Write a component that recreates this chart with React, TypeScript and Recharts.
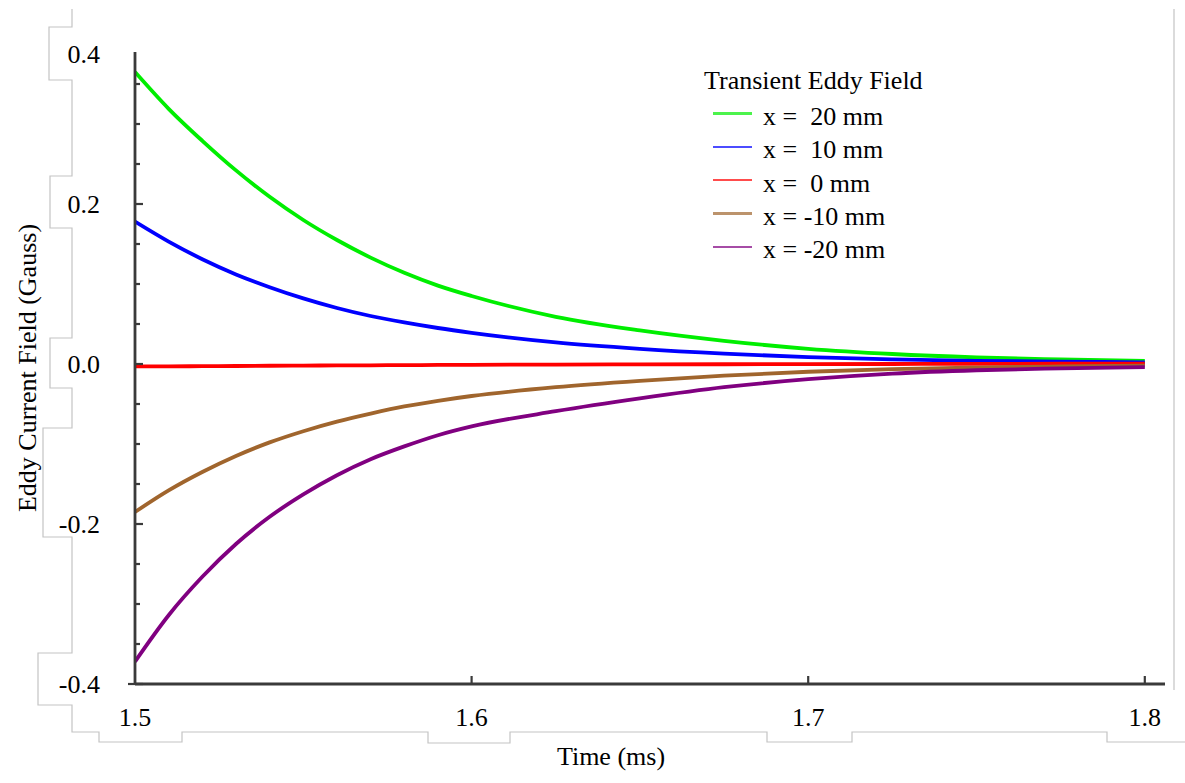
import React from 'react';
import { LineChart, Line, XAxis, YAxis, Legend } from 'recharts';

// ---- data ----
const timeMs = [1.5, 1.51, 1.52, 1.53, 1.54, 1.55, 1.56, 1.57, 1.58, 1.59, 1.6, 1.625, 1.65, 1.675, 1.7, 1.725, 1.75, 1.775, 1.8];
const fieldP20 = [0.365, 0.319, 0.279, 0.242, 0.209, 0.180, 0.155, 0.133, 0.114, 0.098, 0.085, 0.059, 0.042, 0.029, 0.019, 0.0125, 0.0083, 0.0058, 0.004];
const fieldP10 = [0.178, 0.153, 0.131, 0.112, 0.096, 0.082, 0.070, 0.060, 0.052, 0.045, 0.039, 0.027, 0.019, 0.013, 0.0085, 0.0058, 0.004, 0.003, 0.002];
const field0 = [-0.003, -0.003, -0.0027, -0.0025, -0.0022, -0.002, -0.0018, -0.0016, -0.0014, -0.0012, -0.001, -0.0007, -0.0005, -0.0003, -0.0002, 0, 0.0002, 0.0003, 0.0005];
const fieldM10 = [-0.185, -0.158, -0.135, -0.115, -0.098, -0.084, -0.072, -0.062, -0.053, -0.046, -0.040, -0.029, -0.021, -0.0145, -0.0097, -0.0065, -0.0045, -0.003, -0.002];
const fieldM20 = [-0.372, -0.314, -0.266, -0.225, -0.191, -0.163, -0.139, -0.119, -0.103, -0.089, -0.078, -0.059, -0.043, -0.029, -0.019, -0.012, -0.0078, -0.0055, -0.004];

const seriesKeys = ['p20', 'p10', 'z0', 'm10', 'm20'];
const seriesNames = ['x =  20 mm', 'x =  10 mm', 'x =  0 mm', 'x = -10 mm', 'x = -20 mm'];
const seriesColors = ['#00ee00', '#0000ff', '#ff0000', '#a0652d', '#800080'];
const seriesValues = [fieldP20, fieldP10, field0, fieldM10, fieldM20];

const legendTitle = 'Transient Eddy Field';
const xTitle = 'Time (ms)';
const yTitle = 'Eddy Current Field (Gauss)';

const xTicks = [1.5, 1.6, 1.7, 1.8];
const xTickLabels = ['1.5', '1.6', '1.7', '1.8'];
const yLabeledTicks = [-0.4, -0.2, 0, 0.2, 0.39];
const yTickLabels = ['-0.4', '-0.2', '0.0', '0.2', '0.4'];
const yMinorTicks = [-0.35, -0.3, -0.25, -0.15, -0.1, -0.05, 0.05, 0.1, 0.15, 0.25, 0.3, 0.35];
const xDomain = [1.5, 1.806];
const yDomain = [-0.4, 0.39];

const data = timeMs.map((t, i) => {
  const row: Record<string, number> = { t };
  seriesKeys.forEach((k, s) => {
    row[k] = seriesValues[s][i];
  });
  return row;
});

const FONT = '"Liberation Serif", "Times New Roman", serif';
const AXIS = '#3a3a3a';

const YTick = (props: any) => {
  const { x, y, payload } = props;
  const v = payload.value;
  const li = yLabeledTicks.findIndex((t) => Math.abs(t - v) < 1e-9);
  const isTop = Math.abs(v - yDomain[1]) < 1e-9;
  const len = li >= 0 ? 8 : 5;
  return (
    <g>
      {!isTop && (
        <line x1={v === -0.4 ? x - 7 : x} x2={x + len} y1={y} y2={y} stroke={AXIS} strokeWidth={2.2} />
      )}
      {li >= 0 && (
        <text x={x - 35} y={y + (isTop ? 2 : 0)} textAnchor="end" dominantBaseline="central" fontSize={26} fontFamily={FONT} fill="#000">
          {yTickLabels[li]}
        </text>
      )}
    </g>
  );
};

const XTick = (props: any) => {
  const { x, y, payload } = props;
  const i = xTicks.findIndex((t) => Math.abs(t - payload.value) < 1e-9);
  return (
    <g>
      {i > 0 && <line x1={x} x2={x} y1={y} y2={y - 8} stroke={AXIS} strokeWidth={2.2} />}
      <text x={x} y={y + 33} textAnchor="middle" dominantBaseline="central" fontSize={26} fontFamily={FONT} fill="#000">
        {i >= 0 ? xTickLabels[i] : ''}
      </text>
    </g>
  );
};

const renderLegend = () => (
  <div style={{ fontFamily: FONT, color: '#000', fontSize: 26 }}>
    <div style={{ height: 38, lineHeight: '38px', whiteSpace: 'pre' }}>{legendTitle}</div>
    {seriesNames.map((name, i) => (
      <div key={name} style={{ height: 33.3, lineHeight: '33.3px', display: 'flex', alignItems: 'center', whiteSpace: 'pre' }}>
        <div style={{ width: 39, height: 2.5, marginLeft: 9, marginRight: 11, background: seriesColors[i], opacity: 0.7, position: 'relative', top: -3 }} />
        <span>{name}</span>
      </div>
    ))}
  </div>
);

const framePath =
  'M72,9 V27 H49 V80 H72 V176 H50 V228 H72 V338 H50 V388 H72 V428 H43 V537 H72 V653 H38 V705 H72 V732 H99 V742 H182 V732 H428 V743 H510 V732 H767 V742 H852 V732 H1107 V742 H1185 M1174,9 V690';

export default function App() {
  return (
    <div style={{ position: 'absolute', left: 0, top: 0, width: 1185, height: 783, background: '#fff' }}>
      <LineChart width={1185} height={783} data={data} margin={{ top: 52, right: 20, bottom: 0, left: 0 }}>
        <XAxis
          dataKey="t"
          type="number"
          domain={xDomain}
          ticks={xTicks}
          interval={0}
          height={99}
          tickSize={0}
          tickMargin={0}
          tickLine={false}
          tick={<XTick />}
          axisLine={{ stroke: AXIS, strokeWidth: 2.8 }}
          allowDataOverflow
          label={{ value: xTitle, position: 'insideBottom', offset: 18, dx: -39, style: { fontSize: 26, fontFamily: FONT, fill: '#000' } }}
        />
        <YAxis
          type="number"
          domain={yDomain}
          ticks={[...yLabeledTicks, ...yMinorTicks].sort((a, b) => a - b)}
          interval={0}
          width={135}
          tickSize={0}
          tickMargin={0}
          tickLine={false}
          tick={<YTick />}
          axisLine={{ stroke: AXIS, strokeWidth: 2.8 }}
          allowDataOverflow
          label={{ value: yTitle, angle: -90, position: 'insideLeft', offset: 27, style: { fontSize: 26, fontFamily: FONT, fill: '#000', textAnchor: 'middle' } }}
        />
        {seriesKeys.map((k, i) => (
          <Line
            key={k}
            type="monotone"
            dataKey={k}
            name={seriesNames[i]}
            stroke={seriesColors[i]}
            strokeWidth={3.8}
            dot={false}
            activeDot={false}
            isAnimationActive={false}
          />
        ))}
        <Legend
          layout="horizontal"
          verticalAlign="middle"
          align="center"
          content={renderLegend}
          wrapperStyle={{ left: 704, top: 62, width: 300 }}
        />
      </LineChart>
      <svg width={1185} height={783} style={{ position: 'absolute', left: 0, top: 0, pointerEvents: 'none' }}>
        <path d={framePath} fill="none" stroke="#c4c4c4" strokeWidth={1.2} />
      </svg>
    </div>
  );
}
